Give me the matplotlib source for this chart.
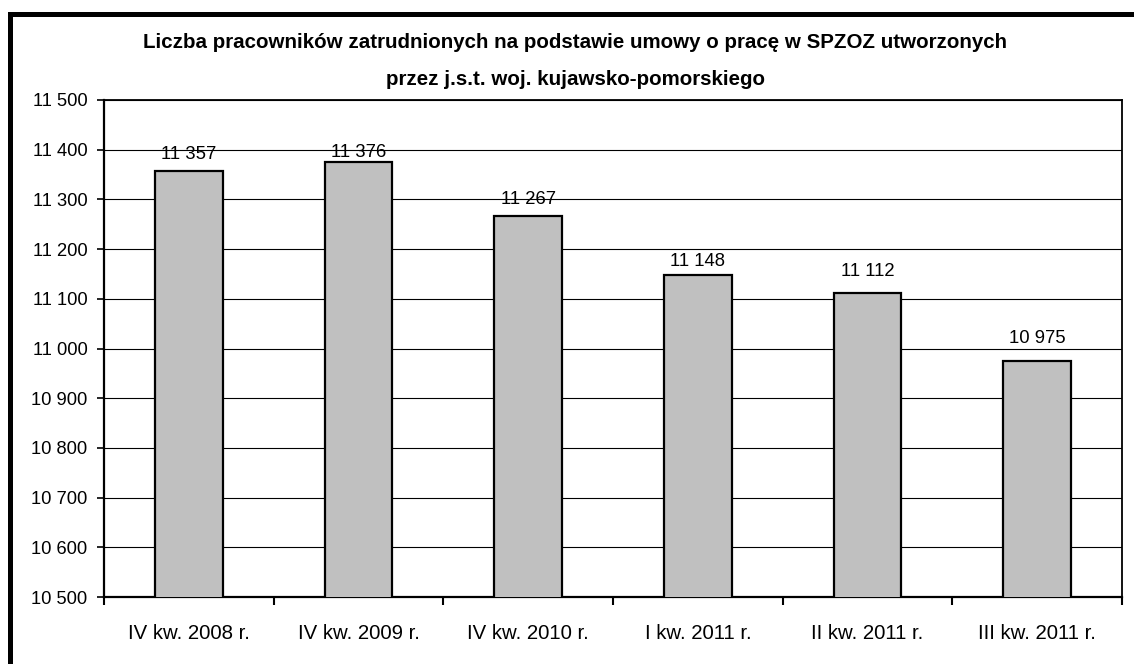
import matplotlib
matplotlib.use('Agg')
import matplotlib.pyplot as plt
from matplotlib.patches import Rectangle
from matplotlib.ticker import FuncFormatter, FixedLocator

# data
categories = ["IV kw. 2008 r.", "IV kw. 2009 r.", "IV kw. 2010 r.",
              "I kw. 2011 r.", "II kw. 2011 r.", "III kw. 2011 r."]
employees = [11357, 11376, 11267, 11148, 11112, 10975]
y_ticks = [10500, 10600, 10700, 10800, 10900, 11000, 11100, 11200, 11300, 11400, 11500]
title_lines = ["Liczba pracowników zatrudnionych na podstawie umowy o pracę w SPZOZ utworzonych",
               "przez j.s.t. woj. kujawsko-pomorskiego"]

# the value labels in the original were nudged by hand, gap above bar in points
label_offsets = [5.8, 0.8, 5.8, 3.6, 9.4, 10.1]

plt.rcParams['font.family'] = ['Liberation Sans', 'DejaVu Sans']

W, H = 1134, 664
fig = plt.figure(figsize=(W / 100, H / 100), dpi=100)
fig.patch.set_facecolor('white')

ax = fig.add_axes([104 / W, 1 - 597 / H, (1122 - 104) / W, (597 - 100) / H])

x = list(range(len(categories)))
bars = ax.bar(x, employees, width=0.4, color='#C0C0C0', edgecolor='black',
              linewidth=1.6, zorder=3)

def fmt(v, pos=None):
    return f"{v:,.0f}".replace(",", " ")

# value labels above the bars
for rect, v, off in zip(bars, employees, label_offsets):
    ax.annotate(fmt(v), (rect.get_x() + rect.get_width() / 2, v),
                xytext=(0, off), textcoords='offset points',
                ha='center', va='bottom', fontsize=13.3, zorder=4)

ax.set_xlim(-0.5, len(categories) - 0.5)
ax.set_ylim(y_ticks[0], y_ticks[-1])
ax.set_yticks(y_ticks)
ax.yaxis.set_major_formatter(FuncFormatter(fmt))
ax.yaxis.grid(True, color='black', linewidth=0.8, zorder=0)
ax.set_axisbelow(True)

ax.set_xticks(x)
ax.set_xticklabels(categories)
ax.xaxis.set_minor_locator(FixedLocator([i - 0.5 for i in range(len(categories) + 1)]))
ax.tick_params(axis='x', which='major', length=0, pad=19.5, labelsize=14.7)
ax.tick_params(axis='x', which='minor', length=5.5, width=1.5, direction='out')
ax.tick_params(axis='y', length=5, width=1.2, direction='out', pad=7, labelsize=13.2)

for side in ['left', 'bottom']:
    ax.spines[side].set_linewidth(1.6)
for side in ['top', 'right']:
    ax.spines[side].set_linewidth(1.3)

fig.text(575 / W, 1 - 48 / H, title_lines[0], ha='center', va='baseline',
         fontsize=14.8, fontweight='bold')
fig.text(575 / W, 1 - 85 / H, title_lines[1], ha='center', va='baseline',
         fontsize=14.8, fontweight='bold')

# outer chart frame (cropped on the right and bottom)
frame = Rectangle((9.5 / W, -0.5), 1.5, 1.5 - 13.5 / H, transform=fig.transFigure,
                  fill=False, edgecolor='black', linewidth=3.6, clip_on=False)
fig.patches.append(frame)

fig.savefig('out.png', dpi=100)
